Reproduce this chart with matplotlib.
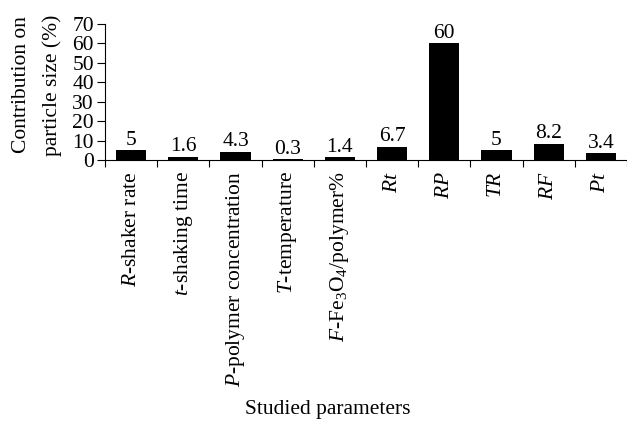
import matplotlib.pyplot as plt
import numpy as np

plt.rcParams['font.family'] = 'Liberation Serif'
plt.rcParams['mathtext.fontset'] = 'custom'
plt.rcParams['mathtext.rm'] = 'Liberation Serif'
plt.rcParams['mathtext.it'] = 'Liberation Serif:italic'
plt.rcParams['font.size'] = 15.5

labels = ['$R$-shaker rate', '$t$-shaking time', '$P$-polymer concentration',
          '$T$-temperature', '$F$-Fe$_3$O$_4$/polymer%', '$Rt$', '$RP$',
          '$TR$', '$RF$', '$Pt$']
values = [5, 1.6, 4.3, 0.3, 1.4, 6.7, 60, 5, 8.2, 3.4]
value_text = ['5', '1.6', '4.3', '0.3', '1.4', '6.7', '60', '5', '8.2', '3.4']

fig = plt.figure(figsize=(6.27, 4.21), dpi=100)
ax = fig.add_axes([0.1675, 0.62, 0.8325, 0.323])

x = np.arange(len(values))
ax.bar(x, values, width=0.58, color='black')
for xi, v, t in zip(x, values, value_text):
    ax.text(xi, v + 0.3, t, ha='center', va='bottom')

ax.set_xlim(-0.5, len(values) - 0.5)
ax.set_ylim(0, 70)
ax.set_yticks(range(0, 71, 10))
ax.set_xticks(np.arange(-0.5, len(values), 1.0))
ax.set_xticklabels([])
ax.set_xticks(x, minor=True)
ax.set_xticklabels(labels, minor=True, rotation=90, va='top', ha='center')
ax.tick_params(axis='x', which='minor', length=0, pad=8)
ax.tick_params(axis='x', which='major', direction='out', length=5)
ax.tick_params(axis='y', direction='out', length=6, pad=2)

ax.spines['top'].set_visible(False)
ax.spines['right'].set_visible(False)

fig.text(37 / 627, 1 - 85 / 421, 'Contribution on\nparticle size (%)', rotation=90,
         ha='center', va='center', multialignment='center', linespacing=1.75)
fig.text(0.523, 0.005, 'Studied parameters', ha='center', va='bottom')

fig.savefig('out.png', dpi=100)
